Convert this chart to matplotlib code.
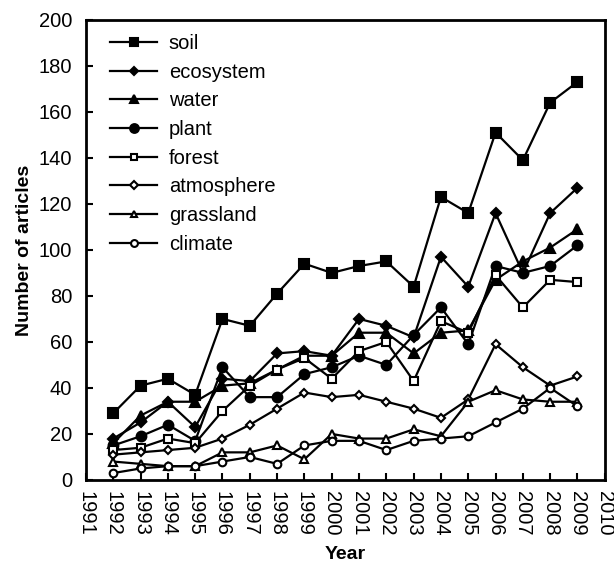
import numpy as np
import matplotlib.pyplot as plt

plt.rcParams['font.family'] = ['Liberation Sans', 'DejaVu Sans']

years = np.arange(1992, 2010)

soil = [29, 41, 44, 37, 70, 67, 81, 94, 90, 93, 95, 84, 123, 116, 151, 139, 164, 173]
ecosystem = [18, 25, 34, 23, 44, 43, 55, 56, 54, 70, 67, 62, 97, 84, 116, 90, 116, 127]
water = [16, 28, 34, 34, 41, 42, 48, 54, 54, 64, 64, 55, 64, 65, 87, 95, 101, 109]
plant = [15, 19, 24, 17, 49, 36, 36, 46, 49, 54, 50, 63, 75, 59, 93, 90, 93, 102]
forest = [13, 14, 18, 16, 30, 41, 48, 53, 44, 56, 60, 43, 69, 64, 89, 75, 87, 86]
atmosphere = [11, 12, 13, 14, 18, 24, 31, 38, 36, 37, 34, 31, 27, 35, 59, 49, 41, 45]
grassland = [8, 7, 6, 6, 12, 12, 15, 9, 20, 18, 18, 22, 19, 34, 39, 35, 34, 34]
climate = [3, 5, 6, 6, 8, 10, 7, 15, 17, 17, 13, 17, 18, 19, 25, 31, 40, 32]

series = [
    ('soil', soil, 's', 'k', 7),
    ('ecosystem', ecosystem, 'D', 'k', 5),
    ('water', water, '^', 'k', 6.5),
    ('plant', plant, 'o', 'k', 7),
    ('forest', forest, 's', 'w', 5.5),
    ('atmosphere', atmosphere, 'D', 'w', 4),
    ('grassland', grassland, '^', 'w', 5.5),
    ('climate', climate, 'o', 'w', 5.5),
]

fig = plt.figure(figsize=(6.14, 5.66), dpi=100)
ax = fig.add_axes([0.140, 0.152, 0.845, 0.813])

for name, vals, m, fc, ms in series:
    ax.plot(years, vals, color='k', lw=1.6, marker=m, markersize=ms,
            markerfacecolor=fc, markeredgecolor='k', markeredgewidth=1.5,
            label=name)

ax.set_xlim(1991, 2010)
ax.set_ylim(0, 200)
ax.set_xticks(np.arange(1991, 2011))
ax.set_xticklabels([str(y) for y in range(1991, 2011)], rotation=270)
ax.set_yticks(np.arange(0, 201, 20))
ax.tick_params(direction='in', length=5, width=1.5, labelsize=14.5)
ax.tick_params(axis='x', pad=8)
ax.tick_params(axis='y', pad=10)

for sp in ax.spines.values():
    sp.set_linewidth(2)

ax.set_xlabel('Year', fontsize=14, fontweight='bold', labelpad=7)
ax.set_ylabel('Number of articles', fontsize=14, fontweight='bold', labelpad=4)

leg = ax.legend(loc='upper left', frameon=False, fontsize=14.5, handlelength=2.3,
                handletextpad=0.6, labelspacing=0.48, borderaxespad=0.3,
                markerscale=0.9, bbox_to_anchor=(0.02, 1.0))

fig.savefig('out.png', dpi=100)
